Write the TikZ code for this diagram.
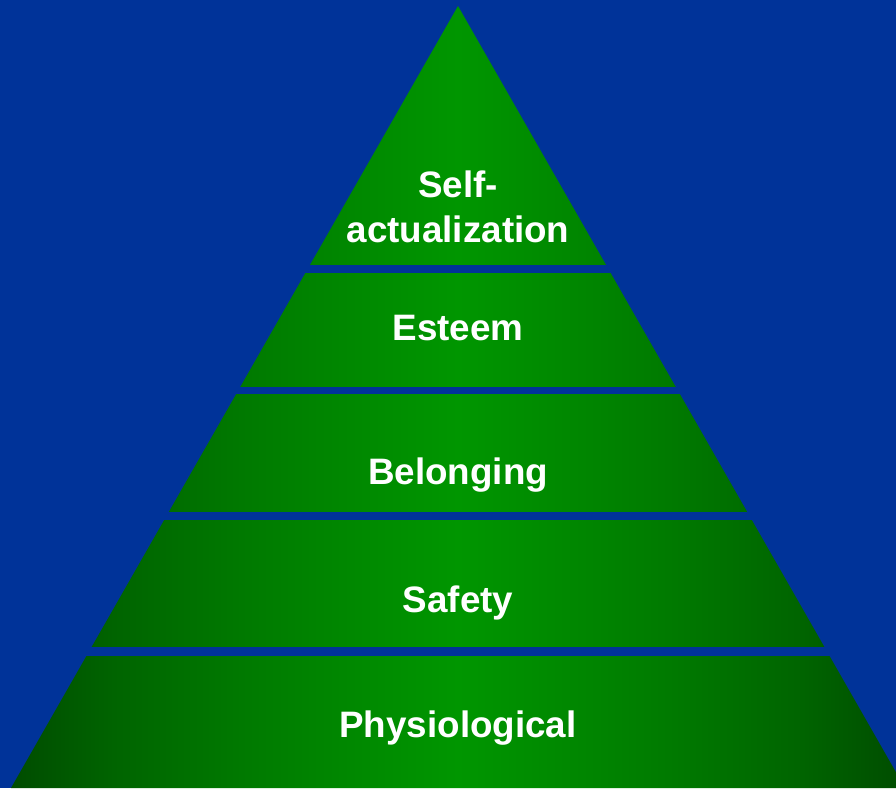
\documentclass[tikz,border=0pt]{standalone}
\usepackage{fontspec}
\setmainfont{Liberation Sans}
\usetikzlibrary{positioning}
\definecolor{bgblue}{HTML}{003399}
\definecolor{pyrdark}{RGB}{0,76,0}
\definecolor{pyrmidA}{RGB}{0,100,0}
\definecolor{pyrmidB}{RGB}{0,122,0}
\definecolor{pyrmidC}{RGB}{0,132,0}
\definecolor{pyrlight}{RGB}{0,150,0}
% left edge at 25bp, centre at 50bp, right edge at 75bp
\pgfdeclarehorizontalshading{pyramidshade}{100bp}{
  color(0bp)=(pyrdark); color(25bp)=(pyrdark);
  color(30.75bp)=(pyrmidA); color(38.25bp)=(pyrmidB);
  color(42.25bp)=(pyrmidC); color(50bp)=(pyrlight);
  color(57.75bp)=(pyrmidC); color(61.75bp)=(pyrmidB);
  color(69.25bp)=(pyrmidA); color(75bp)=(pyrdark);
  color(100bp)=(pyrdark)}
\tikzset{
  levelname/.style={text=white, inner sep=0pt, align=center,
    font=\fontsize{36.8}{45}\selectfont\bfseries},
  gapband/.style={fill=bgblue}
}

\begin{document}
\begin{tikzpicture}[x=1pt,y=-1pt]
    % Background
    \fill[bgblue] (0,0) rectangle (896,788);
    \useasboundingbox (0,0) rectangle (896,788);

    % Pyramid, one shading for all levels
    \shade[shading=pyramidshade]
        (458,6) -- (11,788) -- (905,788) -- cycle;

    % Gaps between the levels
    \foreach \ya/\yb in {265/273, 387/394, 512/520, 647/656}
        \fill[gapband] (0,\ya) rectangle (896,\yb);

    % Levels
    \node[levelname] (selfact) at (458,207) {Self-\\actualization};
    \node[levelname, anchor=base] (esteem) at (458,340) {Esteem};
    \node[levelname, anchor=base] (belonging) at (458,484) {Belonging};
    \node[levelname, anchor=base] (safety) at (458,612) {Safety};
    \node[levelname, anchor=base] (physio) at (458,737) {Physiological};
\end{tikzpicture}
\end{document}
